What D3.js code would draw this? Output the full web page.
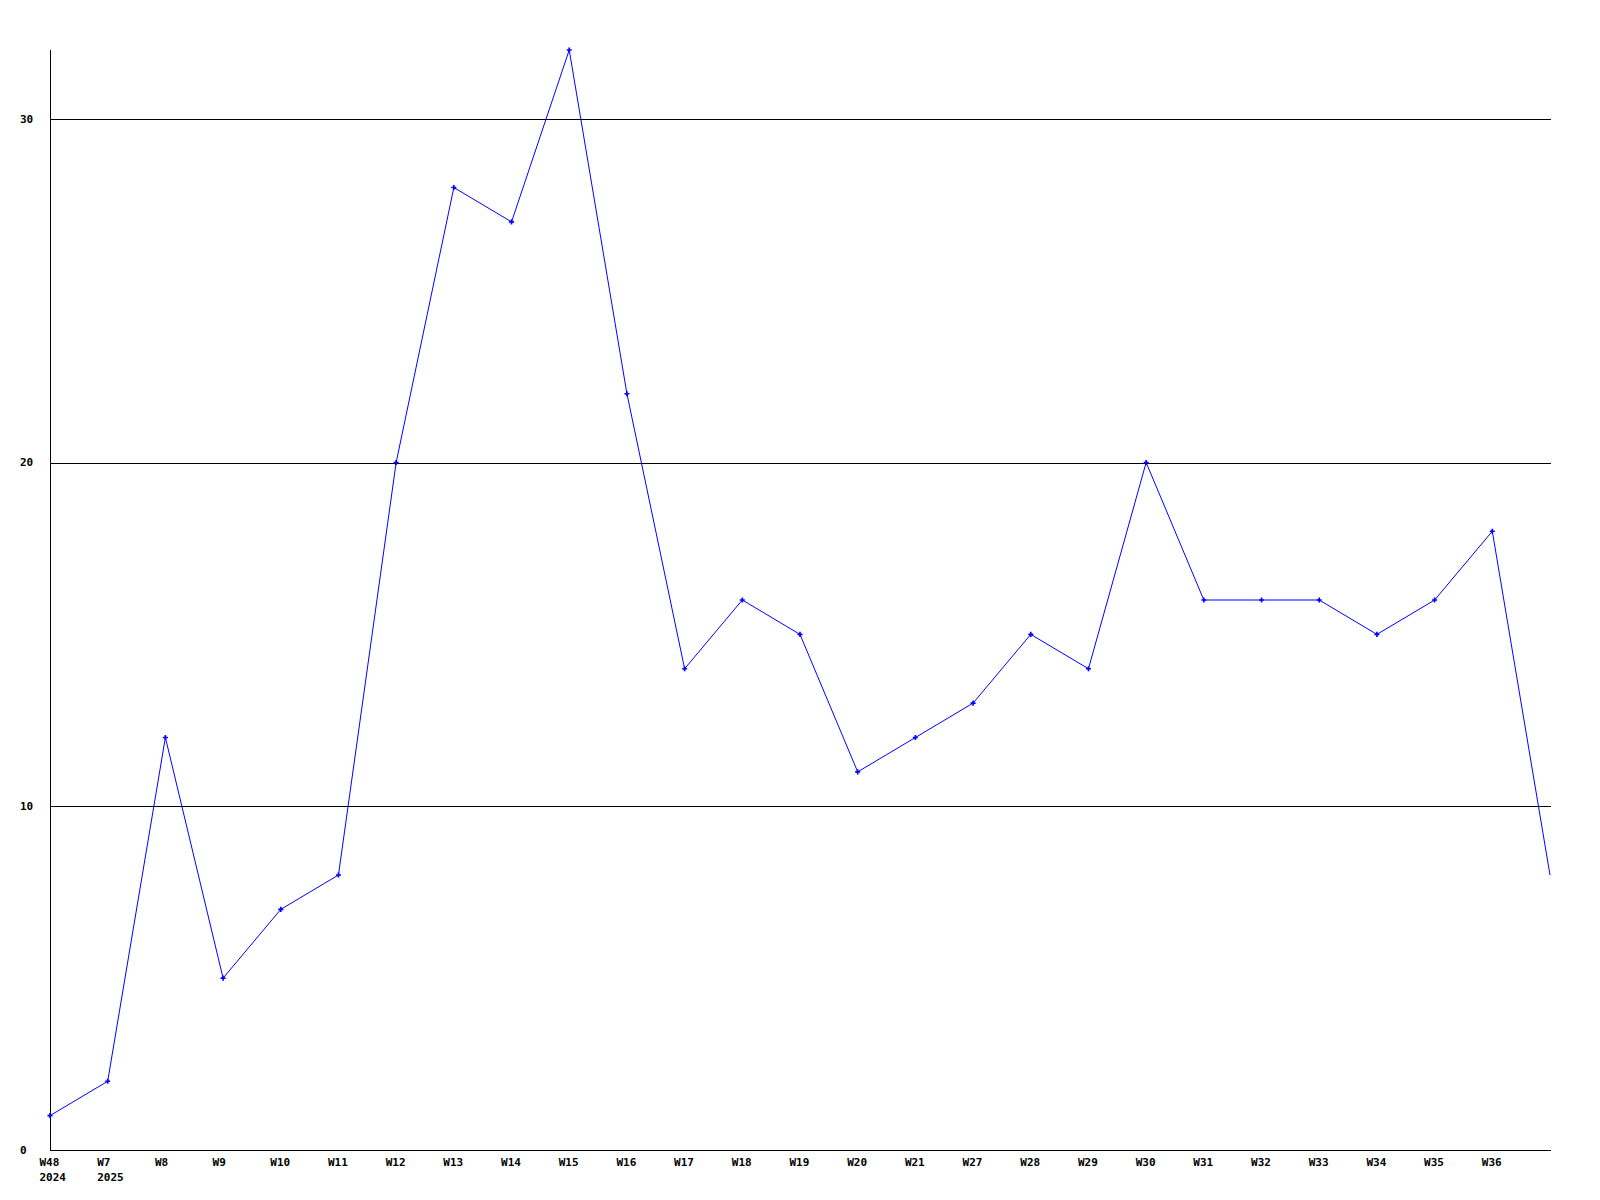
<!DOCTYPE html>
<html>
<head>
<meta charset="utf-8">
<script src="https://cdn.jsdelivr.net/npm/d3@7"></script>
<style>
  body { margin: 0; background: #fff; }
  text { font-family: "DejaVu Sans Mono", monospace; font-weight: bold; font-size: 11px; }
</style>
</head>
<body>
<div id="chart"></div>
<script>
/* Data */
var weeks = ["W48", "W7", "W8", "W9", "W10", "W11", "W12", "W13", "W14", "W15", "W16", "W17", "W18",
             "W19", "W20", "W21", "W27", "W28", "W29", "W30", "W31", "W32", "W33", "W34", "W35", "W36", ""];
var years = ["2024", "2025"];
var values = [1, 2, 12, 5, 7, 8, 20, 28, 27, 32, 22, 14, 16, 15, 11, 12, 13, 15, 14, 20, 16, 16, 16, 15, 16, 18, 8];
var yTicks = [0, 10, 20, 30];

/* Layout */
var width = 1600, height = 1200,
    margin = { left: 50, right: 1551, top: 50, bottom: 1150 };

var svg = d3.select("#chart").append("svg")
    .attr("width", width)
    .attr("height", height);

var x = d3.scalePoint()
    .domain(d3.range(weeks.length))
    .range([margin.left, margin.right - 1]);

var y = d3.scaleLinear()
    .domain([0, 32])
    .range([margin.bottom, margin.top]);

/* Grid lines */
svg.selectAll("line.grid")
    .data(yTicks.filter(function(d) { return d > 0; }))
    .enter().append("line")
    .attr("class", "grid")
    .attr("x1", margin.left).attr("x2", margin.right)
    .attr("y1", function(d) { return Math.round(y(d)) + 0.5; })
    .attr("y2", function(d) { return Math.round(y(d)) + 0.5; })
    .attr("stroke", "#000")
    .attr("shape-rendering", "crispEdges");

/* Axes */
svg.append("line")
    .attr("x1", margin.left + 0.5).attr("x2", margin.left + 0.5)
    .attr("y1", margin.top).attr("y2", margin.bottom)
    .attr("stroke", "#000")
    .attr("shape-rendering", "crispEdges");

svg.append("line")
    .attr("x1", margin.left).attr("x2", margin.right)
    .attr("y1", margin.bottom + 0.5).attr("y2", margin.bottom + 0.5)
    .attr("stroke", "#000")
    .attr("shape-rendering", "crispEdges");

/* Y labels */
svg.selectAll("text.ylab")
    .data(yTicks)
    .enter().append("text")
    .attr("class", "ylab")
    .attr("x", 20)
    .attr("y", function(d) { return y(d); })
    .attr("dy", "0.35em")
    .text(function(d) { return d; });

/* X labels */
svg.selectAll("text.xlab")
    .data(weeks)
    .enter().append("text")
    .attr("class", "xlab")
    .attr("x", function(d, i) { return x(i) - 10.5; })
    .attr("y", margin.bottom + 16)
    .text(function(d) { return d; });

svg.selectAll("text.yr")
    .data(years)
    .enter().append("text")
    .attr("class", "yr")
    .attr("x", function(d, i) { return x(i) - 10.5; })
    .attr("y", margin.bottom + 31)
    .text(function(d) { return d; });

/* Line */
var line = d3.line()
    .x(function(d, i) { return x(i); })
    .y(function(d) { return y(d); });

svg.append("path")
    .datum(values)
    .attr("d", line)
    .attr("fill", "none")
    .attr("stroke", "#0000ff")
    .attr("stroke-width", 1);

/* Markers (not on last point) */
svg.selectAll("path.mark")
    .data(values.slice(0, values.length - 1))
    .enter().append("path")
    .attr("class", "mark")
    .attr("d", d3.symbol().type(d3.symbolCross).size(14))
    .attr("transform", function(d, i) { return "translate(" + x(i) + "," + y(d) + ")"; })
    .attr("fill", "#0000ff");
</script>
</body>
</html>
